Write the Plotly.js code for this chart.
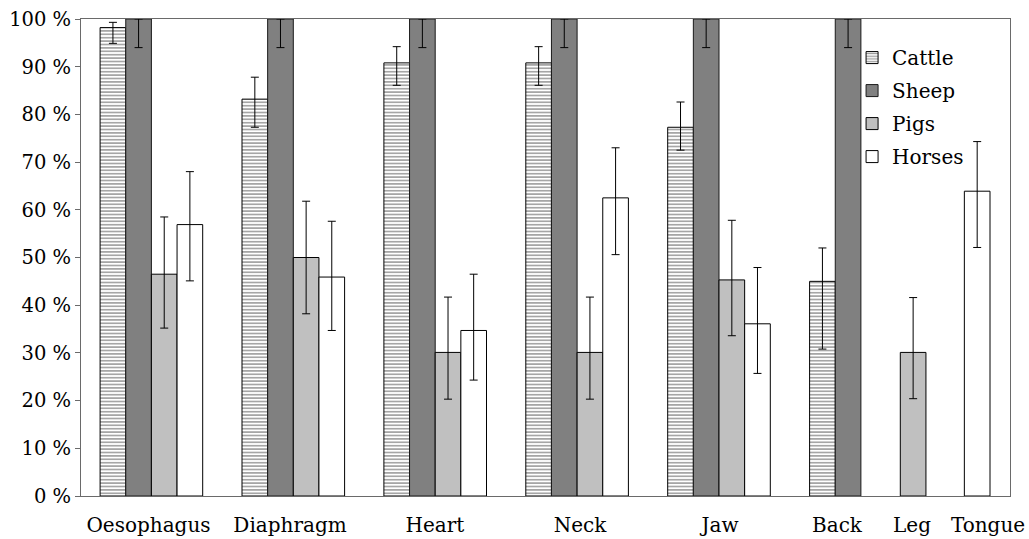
<!DOCTYPE html>
<html>
<head>
<meta charset="utf-8">
<script src="https://cdn.plot.ly/plotly-3.0.1.min.js"></script>
<style>
  html, body { margin: 0; padding: 0; background: #fff; }
  #chart { width: 1029px; height: 539px; }
</style>
</head>
<body>
<div id="chart"></div>
<script>
// ---- data (percent) ----
const categories = ["Oesophagus", "Diaphragm", "Heart", "Neck", "Jaw", "Back", "Leg", "Tongue"];
const seriesNames = ["Cattle", "Sheep", "Pigs", "Horses"];

const cattle     = [98.2, 83.2, 90.8, 90.8, 77.3, 45.0, null, null];
const cattleHigh = [99.3, 87.8, 94.2, 94.2, 82.6, 52.0, null, null];
const cattleLow  = [94.9, 77.3, 86.1, 86.1, 72.5, 30.8, null, null];

const sheep      = [100, 100, 100, 100, 100, 100, null, null];
const sheepHigh  = [100, 100, 100, 100, 100, 100, null, null];
const sheepLow   = [94.0, 94.0, 94.0, 94.0, 94.0, 94.0, null, null];

const pigs       = [46.5, 50.0, 30.1, 30.1, 45.3, null, 30.1, null];
const pigsHigh   = [58.5, 61.8, 41.7, 41.7, 57.8, null, 41.6, null];
const pigsLow    = [35.2, 38.2, 20.3, 20.3, 33.6, null, 20.4, null];

const horses     = [56.9, 45.9, 34.7, 62.5, 36.1, null, null, 63.9];
const horsesHigh = [68.0, 57.6, 46.5, 73.0, 47.9, null, null, 74.3];
const horsesLow  = [45.1, 34.7, 24.3, 50.6, 25.7, null, null, 52.1];

const yTickVals = [0, 10, 20, 30, 40, 50, 60, 70, 80, 90, 100];

// ---- layout of the category axis (x scale units) ----
const BAR_W = 25.65;
const slotCenter = [70.4, 212.3, 354.2, 496.1, 638.0, 779.9, 819.3, 857.7];
const labelPos   = [67.5, 209, 354, 499, 639, 756, 831, 907];

const FONT = "DejaVu Serif";

function plusErr(v, hi) { return v.map((d, i) => d == null ? null : hi[i] - d); }
function minusErr(v, lo) { return v.map((d, i) => d == null ? null : d - lo[i]); }

const styles = [
  { color: "#ffffff", pattern: { shape: "-", fgcolor: "#9c9c9c", bgcolor: "#ffffff", size: 3.4, solidity: 0.45 }, line: "#000000" },
  { color: "#808080", line: "#1a1a1a" },
  { color: "#c0c0c0", line: "#000000" },
  { color: "#ffffff", line: "#000000" }
];

const vals = [cattle, sheep, pigs, horses];
const highs = [cattleHigh, sheepHigh, pigsHigh, horsesHigh];
const lows = [cattleLow, sheepLow, pigsLow, horsesLow];

const traces = vals.map((v, k) => {
  const marker = { color: styles[k].color, line: { color: styles[k].line, width: 1 } };
  if (styles[k].pattern) marker.pattern = styles[k].pattern;
  return {
    type: "bar",
    name: seriesNames[k],
    legendgroup: "g" + k,
    x: slotCenter,
    y: v,
    offset: (k - 2) * BAR_W,
    width: BAR_W,
    marker: marker,
    error_y: {
      type: "data", symmetric: false,
      array: plusErr(v, highs[k]),
      arrayminus: minusErr(v, lows[k]),
      color: "#000000", thickness: 1, width: 4
    },
    hoverinfo: "name+y"
  };
});

const layout = {
  width: 1029, height: 539,
  margin: { l: 81, r: 19, t: 19, b: 43.3, pad: 0 },
  paper_bgcolor: "#ffffff",
  plot_bgcolor: "#ffffff",
  barmode: "overlay",
  font: { family: FONT, size: 20, color: "#000000" },
  showlegend: true,
  legend: {
    x: 0.83, y: 0.96, xanchor: "left", yanchor: "top",
    bgcolor: "rgba(0,0,0,0)", borderwidth: 0,
    font: { family: FONT, size: 20, color: "#000000" },
    tracegroupgap: 4, traceorder: "grouped"
  },
  xaxis: {
    range: [0, 929],
    tickmode: "array", tickvals: labelPos, ticktext: categories,
    ticks: "", showgrid: false, zeroline: false,
    showline: true, linecolor: "#6a6a6a", linewidth: 1, mirror: true,
    tickfont: { family: FONT, size: 20, color: "#000000" },
    ticklabelstandoff: 11,
    fixedrange: true
  },
  yaxis: {
    range: [0, 100],
    tickmode: "array", tickvals: yTickVals, ticktext: yTickVals.map(v => v + " %"),
    ticks: "outside", ticklen: 5, tickcolor: "#6a6a6a", tickwidth: 1,
    showgrid: false, zeroline: false,
    showline: true, linecolor: "#6a6a6a", linewidth: 1, mirror: true,
    tickfont: { family: FONT, size: 19.5, color: "#000000" },
    fixedrange: true
  }
};

Plotly.newPlot("chart", traces, layout, { displayModeBar: false, staticPlot: true });
</script>
</body>
</html>
